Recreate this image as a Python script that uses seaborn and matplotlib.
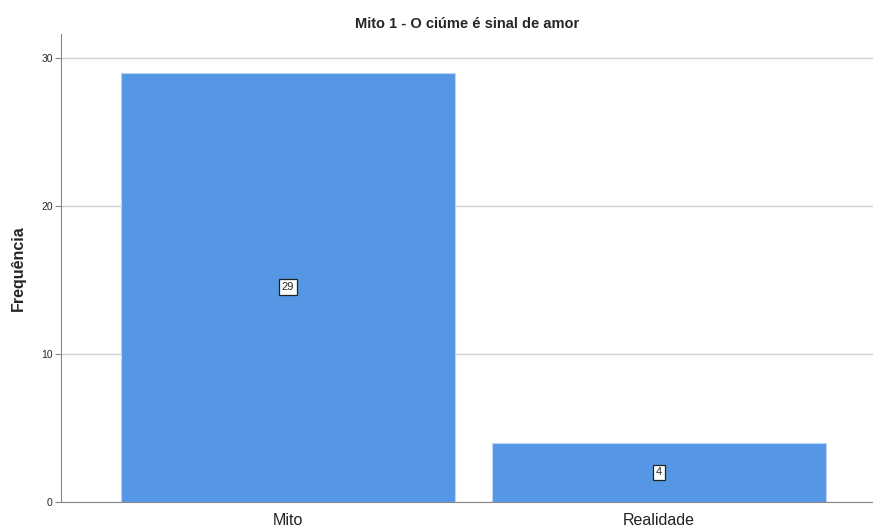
import matplotlib
matplotlib.use("Agg")
import matplotlib.pyplot as plt
import seaborn as sns
import pandas as pd

categorias = ["Mito", "Realidade"]
frequencias = [29, 4]
y_ticks = [0, 10, 20, 30]

df = pd.DataFrame({"Resposta": categorias, "Frequência": frequencias})

sns.set_style("white")
plt.rcParams["font.family"] = ["Liberation Sans", "DejaVu Sans"]

fig = plt.figure(figsize=(8.73, 5.29), dpi=100)
ax = fig.add_axes([61 / 873, 27 / 529, 812 / 873, 468 / 529])

sns.barplot(data=df, x="Resposta", y="Frequência", color="#5596e5",
            width=0.9, edgecolor="#b9d3f2", linewidth=0.8, saturation=1, ax=ax, zorder=3)

for i, v in enumerate(frequencias):
    ax.text(i, v / 2, str(v), ha="center", va="center", fontsize=8, zorder=5,
            bbox=dict(boxstyle="square,pad=0.25", fc="white", ec="#222222", lw=0.9))

ax.set_xlim(-0.612, 1.577)
ax.set_ylim(0, 31.6)
ax.set_yticks(y_ticks)
ax.yaxis.grid(True, color="#d0d0d0", lw=1, zorder=0)
ax.set_axisbelow(True)

for s in ["top", "right"]:
    ax.spines[s].set_visible(False)
ax.spines["left"].set_color("#888888")
ax.spines["bottom"].set_color("#888888")

ax.tick_params(axis="y", labelsize=7.5, length=4, color="#888888", left=True, pad=2)
ax.tick_params(axis="x", labelsize=11.5, length=0, pad=8, labelcolor="#222222")

ax.set_xlabel("")
ax.set_ylabel("Frequência", fontsize=11.5, fontweight="bold", labelpad=11)
ax.set_title("Mito 1 - O ciúme é sinal de amor", fontsize=10.5, fontweight="bold", pad=4)

fig.savefig("out.png", dpi=100)
